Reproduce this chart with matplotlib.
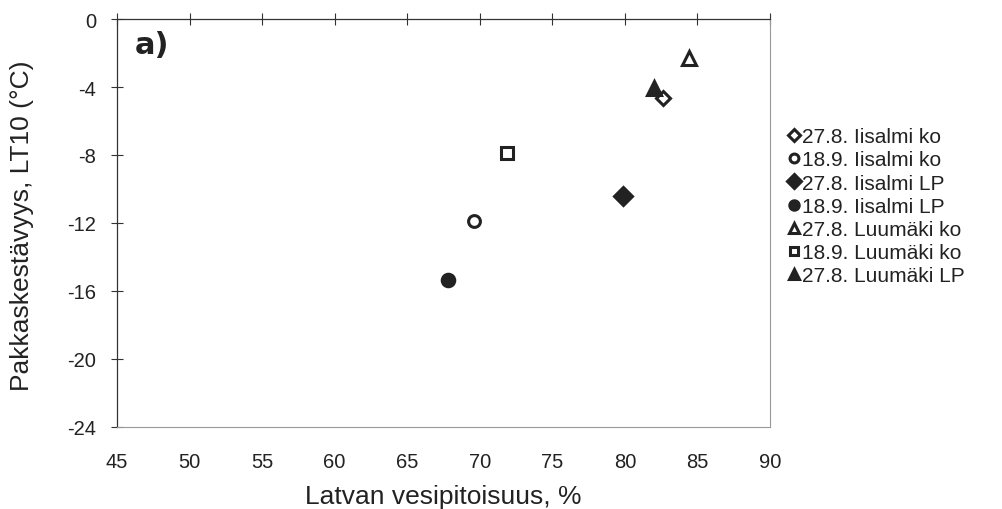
import matplotlib
matplotlib.use("Agg")
import matplotlib.pyplot as plt

plt.rcParams['font.family'] = ['Liberation Sans', 'DejaVu Sans']

labels = ["27.8. Iisalmi ko", "18.9. Iisalmi ko", "27.8. Iisalmi LP", "18.9. Iisalmi LP",
          "27.8. Luumäki ko", "18.9. Luumäki ko", "27.8. Luumäki LP"]
x_vals = [82.6, 69.6, 79.9, 67.8, 84.4, 71.9, 82.0]
y_vals = [-4.65, -11.9, -10.4, -15.35, -2.3, -7.9, -4.05]
markers = ["D", "o", "D", "o", "^", "s", "^"]
filled = [False, False, True, True, False, False, True]
sizes = [7.5, 8.5, 9, 9, 9.5, 8.5, 9.5]

x_ticks = [45, 50, 55, 60, 65, 70, 75, 80, 85, 90]
y_ticks = [0, -4, -8, -12, -16, -20, -24]

W, H = 1002, 510
fig = plt.figure(figsize=(W/100, H/100), dpi=100)
ax = fig.add_axes([117/W, 1-428/H, (770-117)/W, (428-20)/H])

dark = '#222222'
for xv, yv, m, f, s, lab in zip(x_vals, y_vals, markers, filled, sizes, labels):
    ax.plot([xv], [yv], linestyle='none', marker=m, markersize=s,
            markerfacecolor=dark if f else 'white', markeredgecolor=dark,
            markeredgewidth=2.2, label=lab)

ax.set_xlim(45, 90)
ax.set_ylim(-24, 0)
ax.set_xticks(x_ticks)
ax.set_yticks(y_ticks)
ax.set_yticklabels([str(v) for v in y_ticks])

# x axis drawn at y=0 (top) with crossing ticks, labels at bottom
ax.tick_params(axis='x', which='both', top=True, bottom=False, labeltop=False, labelbottom=True,
               direction='inout', length=8, width=0.8, color='#333333', labelsize=14.5, pad=14)
ax.tick_params(axis='y', direction='inout', length=8, width=0.8, color='#333333', labelsize=14.5, pad=11)
for lab in ax.get_xticklabels() + ax.get_yticklabels():
    lab.set_color(dark)

ax.spines['top'].set_color('#333333')
ax.spines['left'].set_color('#333333')
ax.spines['top'].set_linewidth(0.9)
ax.spines['left'].set_linewidth(0.9)
ax.spines['right'].set_color('#999999')
ax.spines['bottom'].set_color('#999999')
ax.spines['right'].set_linewidth(0.8)
ax.spines['bottom'].set_linewidth(0.8)

fig.text(443/W, 1-497/H, "Latvan vesipitoisuus, %", fontsize=19, color=dark,
         ha='center', va='center')
fig.text(22/W, 1-226/H, "Pakkaskestävyys, LT10 (°C)", fontsize=19, color=dark,
         ha='center', va='center', rotation=90)

ax.text(46.2, -1.5, "a)", fontsize=22, fontweight='bold', color=dark,
        family=['DejaVu Sans Condensed', 'DejaVu Sans'], va='center')

leg = ax.legend(loc='upper left', bbox_to_anchor=(1.015, 0.755), frameon=False,
                fontsize=15, handlelength=0.6, handletextpad=0.05, labelspacing=0.2,
                borderaxespad=0, markerscale=0.75)
for t in leg.get_texts():
    t.set_color(dark)

fig.savefig("out.png", dpi=100)
